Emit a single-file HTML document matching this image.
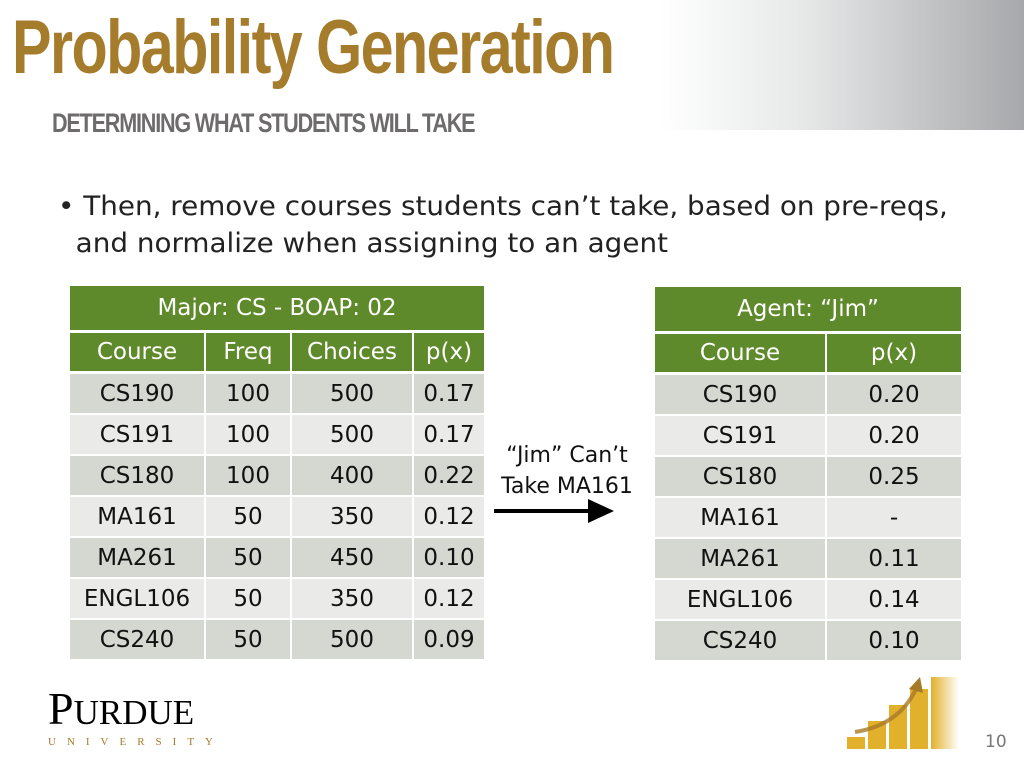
<!DOCTYPE html>
<html><head><meta charset="utf-8"><style>
body{margin:0;width:1024px;height:768px;overflow:hidden;background:#fff;position:relative;font-family:"DejaVu Sans","Liberation Sans",sans-serif}
.abs{position:absolute}
.grad{left:660px;top:0;width:364px;height:130px;background:linear-gradient(90deg,#fff 0%,#e6e8e8 40%,#a7a8ab 100%)}
.title{left:12px;top:4px;font-family:"Liberation Sans",sans-serif;font-weight:bold;font-size:76px;color:#a57b2c;letter-spacing:-2px;transform:scaleX(0.78);transform-origin:left top;white-space:nowrap}
.sub{left:52px;top:108px;font-family:"Liberation Sans",sans-serif;font-weight:bold;font-size:27px;color:#6d6b6b;letter-spacing:-1.5px;transform:scaleX(0.8);transform-origin:left top;white-space:nowrap}
.bullet{left:58px;top:188px;font-size:27px;color:#222;line-height:37px;transform:scaleX(1.03);transform-origin:left top;white-space:nowrap}
.c{position:absolute;display:flex;align-items:center;justify-content:center;font-size:23px;color:#111;box-sizing:border-box}
.h{background:#5f8a2b;color:#fff}
.g1{background:#d5d7d1}.g2{background:#eaebe8}
</style></head><body>
<div class="abs grad"></div>
<div class="abs title">Probability Generation</div>
<div class="abs sub">DETERMINING WHAT STUDENTS WILL TAKE</div>
<div class="abs bullet">•&nbsp;Then, remove courses students can’t take, based on pre-reqs,<br>&nbsp;&nbsp;and normalize when assigning to an agent</div>
<div id="t"></div>
<div class="abs" style="left:492px;top:440px;width:150px;text-align:center;font-size:22px;line-height:31px;color:#111">“Jim” Can’t<br>Take MA161</div>
<svg class="abs" style="left:490px;top:496px" width="130" height="30"><line x1="4" y1="15" x2="100" y2="15" stroke="#000" stroke-width="4"/><polygon points="98,3 124,15 98,27" fill="#000"/></svg>
<div class="abs" style="left:48px;top:686px;font-family:'Liberation Serif',serif;color:#000">
<div style="font-size:46px;line-height:46px;letter-spacing:0px;white-space:nowrap">P<span style="font-size:35px">URDUE</span></div>
<div style="font-size:11px;letter-spacing:11px;color:#a57b2c;margin-top:0px;white-space:nowrap">UNIVERSITY</div></div>
<svg class="abs" style="left:845px;top:675px" width="115" height="80">
<defs><linearGradient id="fd" x1="0" x2="1"><stop offset="0" stop-color="#e2b12c"/><stop offset="1" stop-color="#fff"/></linearGradient></defs>
<rect x="2" y="62" width="18" height="12" fill="#e2b12c"/><rect x="23" y="46" width="18" height="28" fill="#e2b12c"/><rect x="44" y="30" width="18" height="44" fill="#e2b12c"/><rect x="65" y="14" width="18" height="60" fill="#e2b12c"/><rect x="86" y="2" width="28" height="72" fill="url(#fd)"/>
<path d="M10 57 Q55 50 72 12" stroke="#a77a28" stroke-width="4" fill="none" opacity=".8"/><polygon points="64,14 75,2 78,18" fill="#a77a28"/></svg>
<div class="abs" style="left:985px;top:732px;font-size:17px;color:#777">10</div>
<script>
const courses=["CS190","CS191","CS180","MA161","MA261","ENGL106","CS240"];
const freq=["100","100","100","50","50","50","50"];
const choices=["500","500","400","350","450","350","500"];
const px=["0.17","0.17","0.22","0.12","0.10","0.12","0.09"];
const jimPx=["0.20","0.20","0.25","-","0.11","0.14","0.10"];
const t=document.getElementById('t');
function cell(x,y,w,h,txt,cls,name){const d=document.createElement('div');d.className='c '+cls;
d.style.left=x+'px';d.style.top=y+'px';d.style.width=w+'px';d.style.height=h+'px';d.textContent=txt;


t.appendChild(d);}
const L=[70,206,292,414],LW=[134,84,120,70];
cell(70,286,414,44,"Major: CS - BOAP: 02","h","left-table-title");
["Course","Freq","Choices","p(x)"].forEach((s,i)=>cell(L[i],333,LW[i],38,s,"h","left-header-cell"));
const R=[655,827],RW=[170,134];
cell(655,287,306,44,"Agent: “Jim”","h","right-table-title");
["Course","p(x)"].forEach((s,i)=>cell(R[i],334,RW[i],38,s,"h","right-header-cell"));
courses.forEach((c,r)=>{const y=374+r*41,cls=r%2?'g2':'g1';
[c,freq[r],choices[r],px[r]].forEach((s,i)=>cell(L[i],y,LW[i],39,s,cls,"left-table-cell"));
[c,jimPx[r]].forEach((s,i)=>cell(R[i],y+1,RW[i],39,s,cls,"right-table-cell"));});
</script>
</body></html>
